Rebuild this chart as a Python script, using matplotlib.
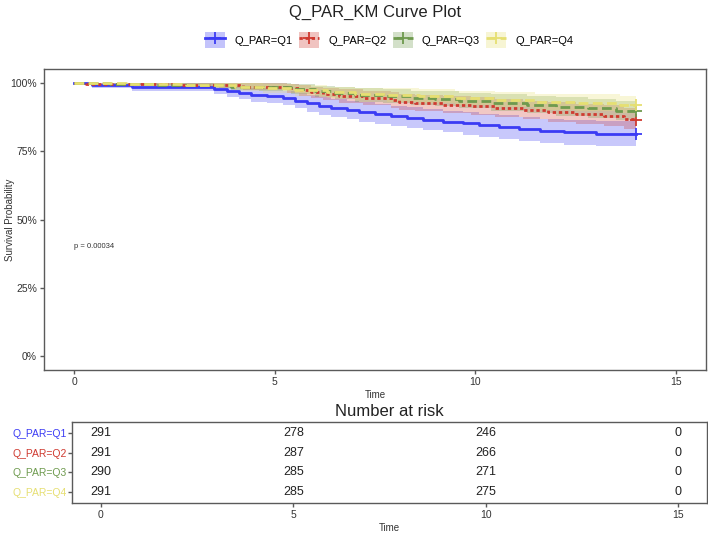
import numpy as np
import matplotlib.pyplot as plt
from matplotlib.patches import Patch
from matplotlib.lines import Line2D

plt.rcParams['font.family'] = ['Liberation Sans', 'DejaVu Sans']

# --- KM step data ---
groups = ["Q_PAR=Q1", "Q_PAR=Q2", "Q_PAR=Q3", "Q_PAR=Q4"]

q1_time = [0, 0.45, 1.45, 3.5, 3.8, 4.1, 4.4, 4.8, 5.2, 5.5, 5.8, 6.1, 6.4, 6.8, 7.1,
           7.5, 7.9, 8.3, 8.7, 9.2, 9.7, 10.1, 10.6, 11.1, 11.6, 12.2, 13.0, 14.0]
q1_surv = [1.0, 0.990, 0.983, 0.976, 0.969, 0.962, 0.955, 0.952, 0.945, 0.934, 0.924, 0.914,
           0.907, 0.900, 0.893, 0.886, 0.879, 0.872, 0.865, 0.858, 0.851, 0.845, 0.838, 0.831,
           0.824, 0.819, 0.813, 0.813]
q1_lower = [1.0, 0.979, 0.968, 0.958, 0.949, 0.940, 0.931, 0.927, 0.919, 0.906, 0.894, 0.882,
            0.874, 0.866, 0.858, 0.850, 0.842, 0.834, 0.826, 0.818, 0.810, 0.803, 0.795, 0.787,
            0.779, 0.774, 0.767, 0.767]
q1_upper = [1.0, 1.0, 0.998, 0.994, 0.989, 0.984, 0.979, 0.977, 0.971, 0.962, 0.954, 0.946,
            0.940, 0.934, 0.928, 0.922, 0.916, 0.910, 0.904, 0.898, 0.892, 0.887, 0.881, 0.875,
            0.869, 0.864, 0.859, 0.859]

q2_time = [0, 0.3, 2.5, 3.6, 4.2, 5.3, 5.6, 5.9, 6.2, 6.6, 7.2, 7.9, 8.1, 8.5, 9.2, 9.9,
           10.5, 11.2, 11.8, 12.5, 13.2, 13.7, 14.0]
q2_surv = [1.0, 0.997, 0.993, 0.990, 0.986, 0.979, 0.972, 0.965, 0.958, 0.951, 0.944, 0.937,
           0.930, 0.926, 0.920, 0.914, 0.907, 0.900, 0.893, 0.886, 0.879, 0.868, 0.865]
q2_lower = [1.0, 0.990, 0.983, 0.979, 0.972, 0.963, 0.953, 0.944, 0.935, 0.926, 0.918, 0.909,
            0.901, 0.896, 0.889, 0.882, 0.874, 0.866, 0.857, 0.849, 0.841, 0.829, 0.825]
q2_upper = [1.0, 1.0, 1.0, 1.0, 1.0, 0.995, 0.991, 0.986, 0.981, 0.976, 0.970, 0.965,
            0.959, 0.956, 0.951, 0.946, 0.940, 0.934, 0.929, 0.923, 0.917, 0.907, 0.905]

q3_time = [0, 0.9, 2.0, 3.4, 3.9, 4.6, 5.4, 6.0, 6.5, 7.0, 7.7, 8.4, 9.0, 9.6, 10.4,
           11.3, 12.0, 12.8, 13.5, 14.0]
q3_surv = [1.0, 0.997, 0.993, 0.990, 0.986, 0.983, 0.976, 0.969, 0.962, 0.955, 0.951, 0.944,
           0.941, 0.934, 0.927, 0.920, 0.913, 0.906, 0.898, 0.898]
q3_lower = [1.0, 0.990, 0.983, 0.979, 0.972, 0.968, 0.958, 0.949, 0.940, 0.931, 0.926, 0.918,
            0.914, 0.906, 0.897, 0.889, 0.880, 0.871, 0.862, 0.862]
q3_upper = [1.0, 1.0, 1.0, 1.0, 1.0, 0.998, 0.994, 0.989, 0.984, 0.979, 0.976, 0.970,
            0.968, 0.962, 0.957, 0.951, 0.946, 0.941, 0.934, 0.934]

q4_time = [0, 1.3, 2.8, 3.3, 4.0, 4.7, 5.5, 6.3, 7.0, 7.8, 8.6, 9.5, 10.5, 11.5, 12.5, 13.6, 14.0]
q4_surv = [1.0, 0.997, 0.993, 0.990, 0.983, 0.979, 0.972, 0.965, 0.958, 0.955, 0.951, 0.945,
           0.938, 0.931, 0.927, 0.919, 0.919]
q4_lower = [1.0, 0.990, 0.983, 0.979, 0.968, 0.963, 0.953, 0.944, 0.935, 0.931, 0.926, 0.919,
            0.910, 0.902, 0.897, 0.888, 0.888]
q4_upper = [1.0, 1.0, 1.0, 1.0, 0.998, 0.995, 0.991, 0.986, 0.981, 0.979, 0.976, 0.971,
            0.966, 0.960, 0.957, 0.950, 0.950]

# number at risk table
risk_times = [0, 5, 10, 15]
risk_q1 = [291, 278, 246, 0]
risk_q2 = [291, 287, 266, 0]
risk_q3 = [290, 285, 271, 0]
risk_q4 = [291, 285, 275, 0]

p_text = "p = 0.00034"

colors = ["#3B3BF4", "#CF3A30", "#6E9A4E", "#E6DF72"]
dashes = [None, (1.2, 1.0), (3.5, 1.6), (3.5, 1.6)]

series = [
    (q1_time, q1_surv, q1_lower, q1_upper),
    (q2_time, q2_surv, q2_lower, q2_upper),
    (q3_time, q3_surv, q3_lower, q3_upper),
    (q4_time, q4_surv, q4_lower, q4_upper),
]
risks = [risk_q1, risk_q2, risk_q3, risk_q4]

fig = plt.figure(figsize=(7.08, 5.35), dpi=100)
ax = fig.add_axes([0.0621, 0.3084, 0.9351, 0.5626])
axr = fig.add_axes([0.1017, 0.0598, 0.8969, 0.1514])

edge = "#5a5a5a"
txt = "#333333"

# --- survival curves ---
handles = []
for name, (t, s, lo, hi), c, d in zip(groups, series, colors, dashes):
    t = np.array(t, dtype=float)
    ax.fill_between(t, lo, hi, step="post", color=c, alpha=0.28, linewidth=0)
    ln, = ax.plot(t, s, drawstyle="steps-post", color=c, lw=2.0)
    if d is not None:
        ln.set_dashes(d)
    ax.plot(t[-1], s[-1], marker="+", color=c, markersize=8, mew=1.3)
    key_line = Line2D([], [], color=c, lw=2.0, marker="+", markersize=8, mew=1.3)
    if d is not None:
        key_line.set_dashes(d)
    handles.append((Patch(facecolor=c, alpha=0.3, edgecolor="none"), key_line))

ax.text(0, 0.40, p_text, fontsize=5.5, color=txt, va="center", ha="left")

ax.set_xlim(-0.75, 15.75)
ax.set_ylim(-0.05, 1.05)
ax.set_xticks([0, 5, 10, 15])
ax.set_yticks([0, 0.25, 0.5, 0.75, 1.0])
ax.set_yticklabels(["0%", "25%", "50%", "75%", "100%"])
ax.set_xlabel("Time", fontsize=7, color=txt, labelpad=2)
ax.set_ylabel("Survival Probability", fontsize=7, color=txt)
ax.yaxis.set_label_coords(-0.044, 0.5)

# --- risk table ---
nrow = len(groups)
for i, r in enumerate(risks):
    yy = nrow - i
    for tt, n in zip(risk_times, r):
        axr.text(tt, yy, str(n), ha="center", va="center", fontsize=9, color="#222222")

axr.set_xlim(-0.75, 15.75)
axr.set_ylim(0.45, 4.55)
axr.set_xticks([0, 5, 10, 15])
axr.set_yticks([4, 3, 2, 1])
axr.set_yticklabels(groups)
axr.set_xlabel("Time", fontsize=7, color=txt, labelpad=2)
axr.set_title("Number at risk", fontsize=12, color="#222222", pad=4)

for a in (ax, axr):
    for sp in a.spines.values():
        sp.set_color(edge)
        sp.set_linewidth(1.0)
    a.tick_params(axis="both", length=3, width=1, color=edge, labelsize=7.5, labelcolor=txt, pad=2)
axr.tick_params(axis="y", labelsize=7.5, pad=1)

# colour the group labels after tick_params so they are not reset
for lab, c in zip(axr.get_yticklabels(), colors):
    lab.set_color(c)

fig.legend(handles, groups, loc="center", bbox_to_anchor=(0.55, 0.925), ncol=4,
           frameon=False, fontsize=8, handlelength=1.8, handleheight=1.8,
           columnspacing=0.6, handletextpad=0.8)
fig.suptitle("Q_PAR_KM Curve Plot", x=0.53, y=0.99, fontsize=12, color="#222222")

fig.savefig("out.png", dpi=100)
